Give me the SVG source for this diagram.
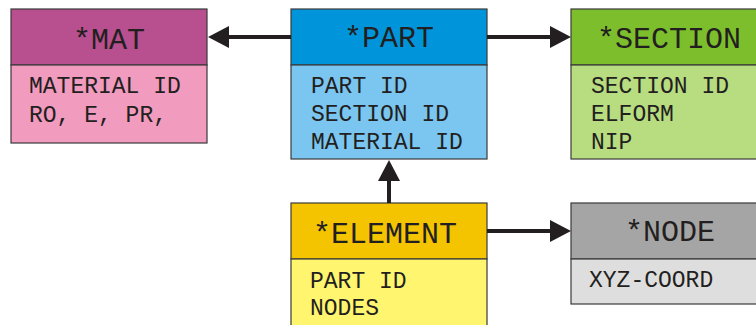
<svg xmlns="http://www.w3.org/2000/svg" width="756" height="325" viewBox="0 0 756 325">
<style>
.box{stroke:#3a3a3a;stroke-width:1.2}
.hd{font-family:"Liberation Mono","Courier New",monospace;font-size:30px;fill:#231F20;text-anchor:middle}
.bd{font-family:"Liberation Mono","Courier New",monospace;font-size:23px;fill:#231F20}
.ln{stroke:#231F20;stroke-width:4;fill:none}
.ah{fill:#231F20}
</style>
<rect width="756" height="325" fill="#ffffff"/>
<g id="mat">
<rect class="box" x="11" y="9" width="196" height="56" fill="#B84F8E"/>
<rect class="box" x="11" y="65" width="196" height="78" fill="#F19BBE"/>
<text class="hd" x="109" y="49">*MAT</text>
<text class="bd" x="29" y="93">MATERIAL ID</text>
<text class="bd" x="29" y="122">RO, E, PR,</text>
</g>
<g id="part">
<rect class="box" x="291" y="9" width="196" height="56" fill="#0095DA"/>
<rect class="box" x="291" y="65" width="196" height="94" fill="#7AC6F0"/>
<text class="hd" x="389" y="47">*PART</text>
<text class="bd" x="311" y="93">PART ID</text>
<text class="bd" x="311" y="121">SECTION ID</text>
<text class="bd" x="311" y="149">MATERIAL ID</text>
</g>
<g id="section">
<rect class="box" x="571" y="9" width="196" height="56" fill="#7DBE2C"/>
<rect class="box" x="571" y="65" width="196" height="94" fill="#B8DC80"/>
<text class="hd" x="669" y="48">*SECTION</text>
<text class="bd" x="591" y="93">SECTION ID</text>
<text class="bd" x="591" y="121">ELFORM</text>
<text class="bd" x="591" y="149">NIP</text>
</g>
<g id="element">
<rect class="box" x="291" y="203" width="196" height="56" fill="#F5C400"/>
<rect class="box" x="291" y="259" width="196" height="80" fill="#FFF56E"/>
<text class="hd" x="385" y="243">*ELEMENT</text>
<text class="bd" x="310" y="288">PART ID</text>
<text class="bd" x="310" y="315">NODES</text>
</g>
<g id="node">
<rect class="box" x="571" y="203" width="196" height="56" fill="#A5A5A5"/>
<rect class="box" x="571" y="259" width="196" height="45" fill="#DEDEDE"/>
<text class="hd" x="670" y="241">*NODE</text>
<text class="bd" x="589" y="287">XYZ-COORD</text>
</g>
<g id="connectors">
<line class="ln" x1="291" y1="37" x2="226" y2="37"/>
<polygon class="ah" points="208,37 229,26 229,48"/>
<line class="ln" x1="487" y1="37" x2="552" y2="37"/>
<polygon class="ah" points="571,37 550,26 550,48"/>
<line class="ln" x1="389" y1="203" x2="389" y2="178"/>
<polygon class="ah" points="389,160 378,181 400,181"/>
<line class="ln" x1="487" y1="231" x2="552" y2="231"/>
<polygon class="ah" points="571,231 550,220 550,242"/>
</g>
</svg>
